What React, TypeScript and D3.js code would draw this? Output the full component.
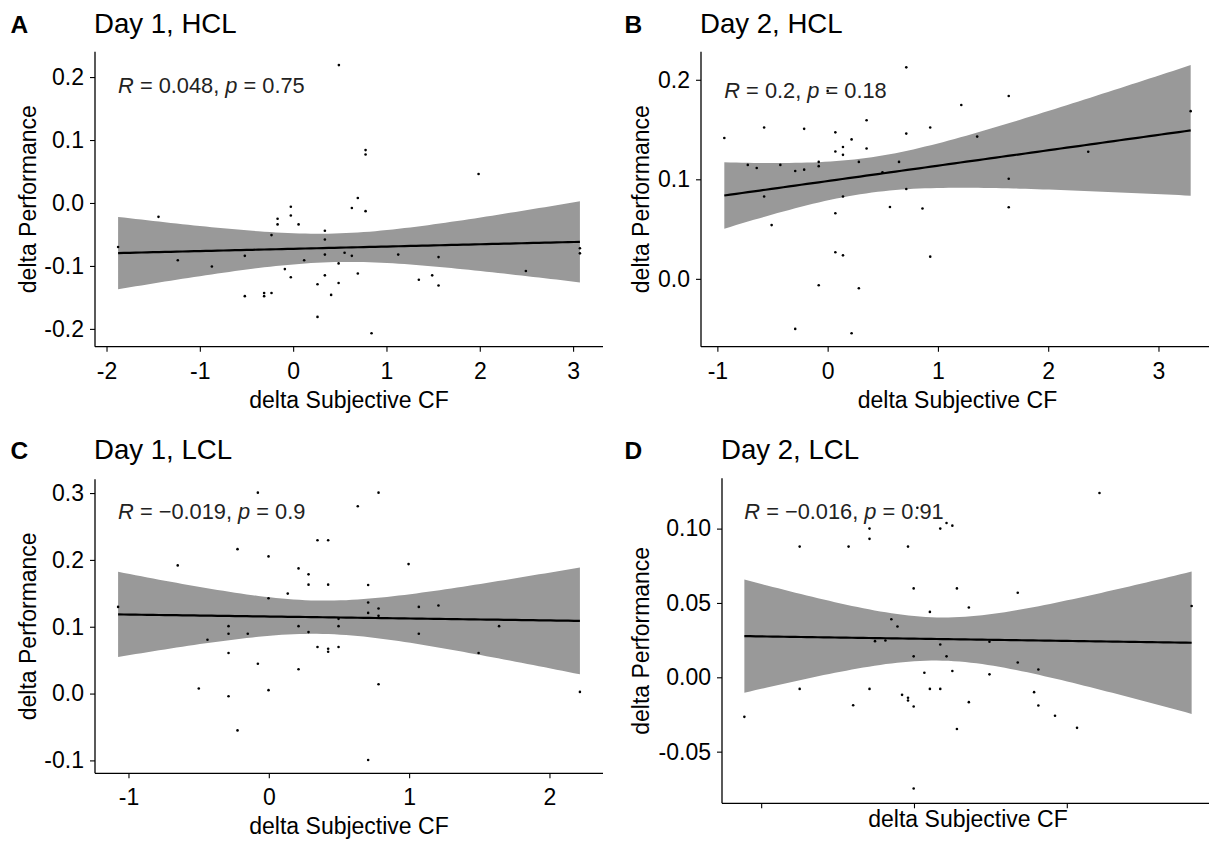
import React, { useRef, useEffect } from "react";
import * as d3 from "d3";

// points: [delta Subjective CF, delta Performance]
const day1HclPoints: [number, number][] = [
  [0.49, 0.219], [-1.876, -0.07], [-1.443, -0.022], [-1.236, -0.091], [-0.871, -0.101],
  [-0.518, -0.084], [-0.518, -0.148], [-0.311, -0.143], [-0.311, -0.148], [-0.232, -0.143],
  [-0.232, -0.051], [-0.167, -0.025], [-0.167, -0.034], [-0.025, -0.006], [-0.025, -0.02],
  [0.058, -0.034], [-0.089, -0.105], [-0.025, -0.118], [0.118, -0.091], [0.261, -0.129],
  [0.261, -0.181], [0.34, -0.044], [0.34, -0.058], [0.34, -0.082], [0.34, -0.115],
  [0.407, -0.146], [0.487, -0.096], [0.487, -0.127], [0.551, -0.079], [0.629, -0.084],
  [0.629, -0.008], [0.693, 0.008], [0.693, -0.112], [0.776, 0.084], [0.776, 0.077],
  [0.776, -0.013], [0.84, -0.207], [1.126, -0.082], [1.347, -0.122], [1.49, -0.115],
  [1.558, -0.086], [1.558, -0.131], [1.987, 0.046], [2.494, -0.108], [3.073, -0.072],
  [3.073, -0.08],
];

const day2HclPoints: [number, number][] = [
  [0.713, 0.2125], [-0.937, 0.1415], [-0.576, 0.152], [-0.213, 0.1507], [0.07, 0.1472],
  [0.217, 0.1401], [0.353, 0.1594], [0.353, 0.131], [0.07, 0.128], [0.139, 0.1324],
  [0.139, 0.1246], [0.0, 0.1888], [0.713, 0.1459], [0.93, 0.152], [-0.724, 0.1145],
  [-0.643, 0.1114], [-0.429, 0.1145], [-0.294, 0.1084], [-0.213, 0.1097], [-0.081, 0.1175],
  [-0.081, 0.1132], [0.283, 0.1175], [0.647, 0.1175], [0.497, 0.107], [-0.576, 0.0828],
  [0.139, 0.0828], [0.713, 0.0902], [-0.508, 0.054], [0.07, 0.0659], [0.565, 0.0722],
  [0.86, 0.0706], [0.07, 0.0267], [0.139, 0.0236], [0.93, 0.0223], [-0.081, -0.0064],
  [0.283, -0.0094], [-0.294, -0.0503], [0.217, -0.0547], [1.212, 0.1746], [1.642, 0.1837],
  [1.356, 0.1429], [2.363, 0.1277], [1.642, 0.1006], [1.642, 0.0719], [3.292, 0.1685],
];

const day1LclPoints: [number, number][] = [
  [-0.078, 0.3006], [-1.074, 0.1297], [-0.649, 0.1918], [-0.223, 0.2161], [-0.002, 0.2052],
  [0.347, 0.2295], [0.423, 0.2295], [0.212, 0.1873], [0.283, 0.1784], [0.283, 0.163],
  [0.423, 0.163], [0.135, 0.1496], [-0.002, 0.1426], [-0.437, 0.0805], [-0.287, 0.1009],
  [-0.287, 0.0894], [-0.15, 0.0894], [-0.287, 0.0607], [0.212, 0.1009], [0.283, 0.092],
  [0.497, 0.1118], [0.497, 0.1009], [0.347, 0.0696], [0.423, 0.0671], [0.423, 0.0626],
  [0.497, 0.0696], [-0.078, 0.0447], [0.212, 0.0364], [-0.499, 0.0075], [-0.287, -0.0039],
  [-0.002, 0.0051], [-0.223, -0.0551], [0.782, 0.3006], [0.634, 0.2802], [0.996, 0.1937],
  [0.708, 0.1624], [0.708, 0.1362], [0.708, 0.1207], [0.782, 0.1273], [0.782, 0.1163],
  [1.069, 0.1297], [1.209, 0.1317], [1.069, 0.0894], [1.641, 0.1009], [1.495, 0.0607],
  [0.782, 0.014], [2.217, 0.0025], [0.708, -0.0993],
];

const day2LclPoints: [number, number][] = [
  [-1.11, -0.0266], [-0.748, 0.0879], [-0.428, 0.0879], [-0.039, 0.0879], [-0.291, 0.1],
  [-0.291, 0.0931], [0.172, 0.1], [0.213, 0.1038], [0.251, 0.102], [-0.002, 0.0598],
  [0.281, 0.0598], [0.104, 0.044], [-0.148, 0.039], [-0.108, 0.0342], [-0.255, 0.0243],
  [-0.187, 0.0248], [0.172, 0.0221], [-0.002, 0.0141], [0.213, 0.0141], [0.068, 0.0031],
  [0.251, 0.0042], [-0.748, -0.0078], [-0.291, -0.0078], [0.104, -0.0078], [0.172, -0.0078],
  [-0.398, -0.0188], [-0.078, -0.0118], [-0.039, -0.0138], [-0.039, -0.0156], [-0.002, -0.0196],
  [0.281, -0.0348], [-0.002, -0.0748], [1.214, 0.1239], [0.679, 0.0569], [0.359, 0.0469],
  [1.817, 0.048], [0.494, 0.0239], [0.679, 0.01], [0.814, 0.0052], [0.494, 0.002],
  [0.359, -0.0167], [0.786, -0.01], [0.814, -0.019], [0.923, -0.0259], [1.067, -0.034],
  [0.022, 0.114],
];

const panelTags = ["A", "B", "C", "D"];
const panelTitles = ["Day 1, HCL", "Day 2, HCL", "Day 1, LCL", "Day 2, LCL"];
const statR = ["0.048", "0.2", "\u22120.019", "\u22120.016"];
const statP = ["0.75", "0.18", "0.9", "0.91"];

const xTicksA = [-2, -1, 0, 1, 2, 3];
const xTicksB = [-1, 0, 1, 2, 3];
const xTicksC = [-1, 0, 1, 2];
const xTicksD = [-1, 0, 1];
const yTicksA = [-0.2, -0.1, 0, 0.1, 0.2];
const yTickLabelsA = ["-0.2", "-0.1", "0.0", "0.1", "0.2"];
const yTicksB = [0, 0.1, 0.2];
const yTickLabelsB = ["0.0", "0.1", "0.2"];
const yTicksC = [-0.1, 0, 0.1, 0.2, 0.3];
const yTickLabelsC = ["-0.1", "0.0", "0.1", "0.2", "0.3"];
const yTicksD = [-0.05, 0, 0.05, 0.1];
const yTickLabelsD = ["-0.05", "0.00", "0.05", "0.10"];

const FONT = "'Liberation Sans', Arial, Helvetica, sans-serif";

// layout of each panel on the page
const panels = [
  { points: day1HclPoints, xTicks: xTicksA, showX: true, yTicks: yTicksA, yLabels: yTickLabelsA,
    box: { left: 95, right: 603, top: 51.7, bottom: 346.7 }, tagX: 10.5, titleY: 33.3, yTitleX: 36.4, statDy: 41.6 },
  { points: day2HclPoints, xTicks: xTicksB, showX: true, yTicks: yTicksB, yLabels: yTickLabelsB,
    box: { left: 701, right: 1214, top: 51.7, bottom: 346.7 }, tagX: 624.5, titleY: 33.3, yTitleX: 648.5, statDy: 46 },
  { points: day1LclPoints, xTicks: xTicksC, showX: true, yTicks: yTicksC, yLabels: yTickLabelsC,
    box: { left: 95, right: 603, top: 479.3, bottom: 773.3 }, tagX: 10.5, titleY: 459.3, yTitleX: 36.4, statDy: 39.7 },
  { points: day2LclPoints, xTicks: xTicksD, showX: false, yTicks: yTicksD, yLabels: yTickLabelsD,
    box: { left: 722, right: 1214, top: 478.3, bottom: 803.3 }, tagX: 624.5, titleY: 459.3, yTitleX: 648.5, statDy: 40.7 },
];

// two-sided 95% t quantile (Cornish-Fisher expansion)
function tQuantile975(df: number) {
  const z = 1.959964;
  const z3 = z ** 3, z5 = z ** 5, z7 = z ** 7;
  return z + (z3 + z) / (4 * df) + (5 * z5 + 16 * z3 + 3 * z) / (96 * df * df)
    + (3 * z7 + 19 * z5 + 17 * z3 - 15 * z) / (384 * df ** 3);
}

// lm fit with confidence band, evaluated like stat_smooth (n = 80)
function linearFit(points: [number, number][]) {
  const n = points.length;
  const mx = d3.mean(points, d => d[0]) as number;
  const my = d3.mean(points, d => d[1]) as number;
  const sxx = d3.sum(points, d => (d[0] - mx) ** 2);
  const sxy = d3.sum(points, d => (d[0] - mx) * (d[1] - my));
  const slope = sxy / sxx;
  const intercept = my - slope * mx;
  const sse = d3.sum(points, d => (d[1] - intercept - slope * d[0]) ** 2);
  const s = Math.sqrt(sse / (n - 2));
  const t = tQuantile975(n - 2);
  const [x0, x1] = d3.extent(points, d => d[0]) as [number, number];
  return d3.range(80).map(i => {
    const x = x0 + ((x1 - x0) * i) / 79;
    const fit = intercept + slope * x;
    const se = s * Math.sqrt(1 / n + (x - mx) ** 2 / sxx);
    return { x, fit, lo: fit - t * se, hi: fit + t * se };
  });
}

function expand([a, b]: [number, number]): [number, number] {
  const pad = (b - a) * 0.05;
  return [a - pad, b + pad];
}

function CorrelationPanels() {
  const svgRef = useRef<SVGSVGElement>(null);

  useEffect(() => {
    const svg = d3.select(svgRef.current);
    svg.selectAll("*").remove();

    panels.forEach((p, i) => {
      const band = linearFit(p.points);
      const { left, right, top, bottom } = p.box;

      const x = d3.scaleLinear()
        .domain(expand(d3.extent(p.points, d => d[0]) as [number, number]))
        .range([left, right]);

      const yMin = Math.min(d3.min(p.points, d => d[1]) as number, d3.min(band, d => d.lo) as number);
      const yMax = Math.max(d3.max(p.points, d => d[1]) as number, d3.max(band, d => d.hi) as number);
      const y = d3.scaleLinear().domain(expand([yMin, yMax])).range([bottom, top]);

      const g = svg.append("g").attr("font-family", FONT);

      // confidence band
      g.append("path")
        .datum(band)
        .attr("fill", "#999999")
        .attr("d", d3.area<any>().x(d => x(d.x)).y0(d => y(d.lo)).y1(d => y(d.hi)));

      // points
      g.append("g")
        .selectAll("circle")
        .data(p.points)
        .enter()
        .append("circle")
        .attr("cx", d => x(d[0]))
        .attr("cy", d => y(d[1]))
        .attr("r", 1.3)
        .attr("fill", "black");

      // regression line
      g.append("path")
        .datum(band)
        .attr("fill", "none")
        .attr("stroke", "black")
        .attr("stroke-width", 2.2)
        .attr("d", d3.line<any>().x(d => x(d.x)).y(d => y(d.fit)));

      // axes
      const xAxis = g.append("g")
        .attr("transform", `translate(0, ${bottom})`)
        .call(d3.axisBottom(x).tickValues(p.xTicks).tickSize(5).tickSizeOuter(0)
          .tickFormat(p.showX ? (d => String(d)) : () => ""));
      xAxis.select(".domain").attr("stroke-width", 1.3).attr("d", `M${left},0H${right}`);
      xAxis.selectAll(".tick line").attr("stroke-width", 1.1);
      xAxis.selectAll(".tick text")
        .attr("font-size", 23)
        .attr("font-family", FONT)
        .attr("fill", "black")
        .attr("y", 32)
        .attr("dy", 0);

      const yAxis = g.append("g")
        .attr("transform", `translate(${left}, 0)`)
        .call(d3.axisLeft(y).tickValues(p.yTicks).tickSize(5).tickSizeOuter(0)
          .tickFormat((_, k) => p.yLabels[k]));
      yAxis.select(".domain").attr("stroke-width", 1.3).attr("d", `M0,${top}V${bottom}`);
      yAxis.selectAll(".tick line").attr("stroke-width", 1.1);
      yAxis.selectAll(".tick text")
        .attr("font-size", 23)
        .attr("font-family", FONT)
        .attr("fill", "black")
        .attr("x", -11);

      // axis titles
      g.append("text")
        .attr("x", (left + right) / 2)
        .attr("y", bottom + (p.showX ? 61 : 24))
        .attr("text-anchor", "middle")
        .attr("font-size", 23)
        .text("delta Subjective CF");

      g.append("text")
        .attr("transform", `translate(${p.yTitleX}, ${(top + bottom) / 2}) rotate(-90)`)
        .attr("text-anchor", "middle")
        .attr("font-size", 23)
        .text("delta Performance");

      // tag and title
      g.append("text")
        .attr("x", p.tagX)
        .attr("y", p.titleY)
        .attr("font-size", 24.5)
        .attr("font-weight", "bold")
        .text(panelTags[i]);

      g.append("text")
        .attr("x", left - 1)
        .attr("y", p.titleY)
        .attr("font-size", 27.6)
        .text(panelTitles[i]);

      // correlation label
      const stat = g.append("text")
        .attr("x", x(d3.min(p.points, d => d[0]) as number))
        .attr("y", top + p.statDy)
        .attr("font-size", 21.8)
        .attr("fill", "#222");
      stat.append("tspan").attr("font-style", "italic").text("R");
      stat.append("tspan").text(` = ${statR[i]}, `);
      stat.append("tspan").attr("font-style", "italic").text("p");
      stat.append("tspan").text(` = ${statP[i]}`);
    });
  }, []);

  return (
    <svg
      ref={svgRef}
      width={1209}
      height={843}
      style={{ position: "absolute", left: 0, top: 0, background: "white" }}
    />
  );
}

export default function App() {
  return <CorrelationPanels />;
}
